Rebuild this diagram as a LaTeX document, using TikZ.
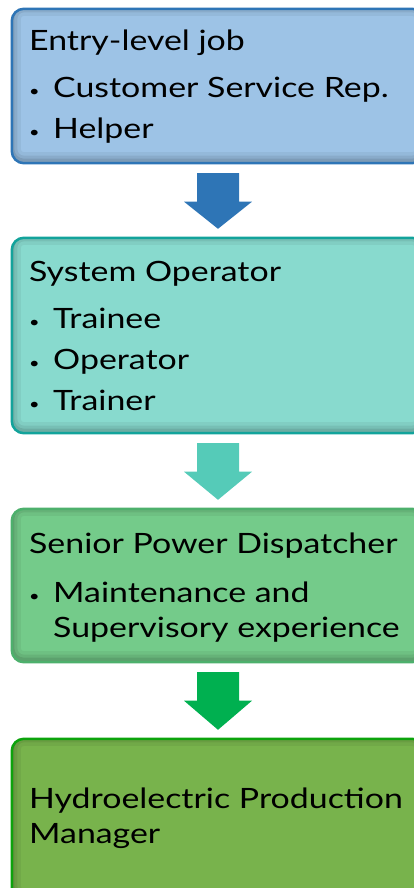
\documentclass[tikz,border=0pt]{standalone}
\usepackage{fontspec}
\setmainfont{Lato}[FakeStretch=1.21]
\usepackage{tikz}
\usetikzlibrary{calc}
\definecolor{fillA}{HTML}{9DC3E6}
\definecolor{lineA}{HTML}{2E75B6}
\definecolor{fillB}{HTML}{88DACE}
\definecolor{lineB}{HTML}{13A39B}
\definecolor{fillC}{HTML}{74CB8A}
\definecolor{lineC}{HTML}{4DB06C}
\definecolor{fillD}{HTML}{78B34C}
\definecolor{lineD}{HTML}{0CA30C}
\definecolor{arrowA}{HTML}{2E75B6}
\definecolor{arrowB}{HTML}{55CBB8}
\definecolor{arrowC}{HTML}{00B050}
\tikzset{stage/.style={rectangle,rounded corners=12pt,minimum width=412pt,inner sep=0pt},
  txt/.style={anchor=base west,inner sep=0pt,font=\fontsize{28}{35}\selectfont},
  dot/.style={anchor=base west,inner sep=0pt,font=\fontsize{15}{18}\selectfont}}

\begin{document}
\begin{tikzpicture}[line cap=round,line join=round,x=1pt,y=1pt]
\useasboundingbox (0,0) rectangle (414,-888);
\clip (0,0) rectangle (414,-888);
% boxes
\node[stage,fill=fillA,minimum height=154pt] (b1) at (218,-86) {};
\node[stage,fill=fillB,minimum height=195pt] (b2) at (218,-335.5) {};
\node[stage,fill=fillC,minimum height=153pt] (b3) at (218,-585.5) {};
\node[stage,fill=fillD,minimum height=161pt] (b4) at (218,-819.5) {};
\foreach \b/\c in {b1/lineA,b2/lineB,b3/lineC,b4/lineD}{
  \begin{scope}
    \clip[rounded corners=12pt] (\b.south west) rectangle (\b.north east);
    \foreach \w/\o in {18/0.05,11/0.07,5/0.09}
      \draw[line width=\w pt,black,opacity=\o,rounded corners=12pt] ($(\b.south west)+(0,2)$) rectangle ($(\b.north east)+(0,2)$);
  \end{scope}
  \draw[line width=2.5pt,color=\c,rounded corners=12pt] (\b.south west) rectangle (\b.north east);
}
% arrows
\foreach \a/\b/\c in {b1/b2/arrowA,b2/b3/arrowB,b3/b4/arrowC}
  \fill[\c] ($(\a.south)+(-21,-10)$) -- ($(\a.south)+(21,-10)$) -- ($(\a.south)+(21,-38.5)$) -- ($(\a.south)+(34,-38.5)$)
    -- ($(\b.north)+(0,9)$) -- ($(\a.south)+(-34,-38.5)$) -- ($(\a.south)+(-21,-38.5)$) -- cycle;
% texts
\node[txt] (t1) at (29,-50.5) {Entry-level job};
\node[dot] (d1a) at (29,-97) {•};
\node[txt] (t1a) at (53,-98) {Customer Service Rep.};
\node[dot] (d1b) at (29,-138) {•};
\node[txt] (t1b) at (53,-139) {Helper};
\node[txt] (t2) at (29,-281) {System Operator};
\node[dot] (d2a) at (29,-327) {•};
\node[txt] (t2a) at (53,-328) {Trainee};
\node[dot] (d2b) at (29,-368) {•};
\node[txt] (t2b) at (53,-369) {Operator};
\node[dot] (d2c) at (29,-409) {•};
\node[txt] (t2c) at (53,-410) {Trainer};
\node[txt] (t3) at (29,-553) {Senior Power Dispatcher};
\node[dot] (d3a) at (29,-601) {•};
\node[txt] (t3a) at (53,-602) {Maintenance and};
\node[txt] (t3b) at (53,-637) {Supervisory experience};
\node[txt] (t4a) at (29,-808) {Hydroelectric Production};
\node[txt] (t4b) at (29,-843) {Manager};
\end{tikzpicture}
\end{document}
